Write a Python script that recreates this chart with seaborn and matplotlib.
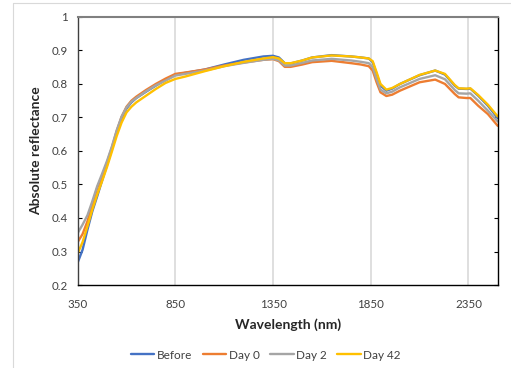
import numpy as np
import pandas as pd
import matplotlib.pyplot as plt
import seaborn as sns
from matplotlib.lines import Line2D

# wavelength sample points (nm)
wavelength = [350, 375, 400, 425, 450, 475, 500, 525, 550, 575, 600, 625, 650, 700, 750, 800, 850,
              900, 1000, 1100, 1200, 1300, 1350, 1380, 1410, 1440, 1500, 1550, 1650, 1750, 1800,
              1840, 1860, 1880, 1900, 1930, 1960, 2000, 2100, 2180, 2230, 2280, 2300, 2340, 2360,
              2400, 2450, 2500]

before = [0.267, 0.305, 0.365, 0.42, 0.465, 0.512, 0.558, 0.605, 0.655, 0.698, 0.727, 0.745, 0.758, 0.777, 0.795, 0.812, 0.828,
          0.833, 0.843, 0.858, 0.872, 0.882, 0.884, 0.879, 0.862, 0.861, 0.87, 0.879, 0.886, 0.882, 0.879,
          0.876, 0.865, 0.83, 0.795, 0.78, 0.786, 0.80, 0.826, 0.84, 0.828, 0.795, 0.786, 0.785, 0.786,
          0.765, 0.735, 0.698]
day0 = [0.328, 0.352, 0.39, 0.44, 0.49, 0.525, 0.565, 0.61, 0.66, 0.702, 0.732, 0.75, 0.762, 0.782, 0.80, 0.816, 0.83,
        0.834, 0.843, 0.855, 0.864, 0.872, 0.874, 0.868, 0.851, 0.851, 0.858, 0.865, 0.869, 0.862, 0.858,
        0.853, 0.84, 0.805, 0.775, 0.764, 0.768, 0.78, 0.805, 0.813, 0.80, 0.77, 0.76, 0.758, 0.758,
        0.735, 0.71, 0.675]
day2 = [0.355, 0.38, 0.408, 0.45, 0.495, 0.532, 0.57, 0.613, 0.662, 0.703, 0.73, 0.747, 0.758, 0.778, 0.796, 0.81, 0.825,
        0.83, 0.84, 0.853, 0.863, 0.872, 0.875, 0.87, 0.855, 0.855, 0.863, 0.87, 0.875, 0.87, 0.866,
        0.862, 0.85, 0.815, 0.783, 0.772, 0.777, 0.79, 0.815, 0.826, 0.814, 0.782, 0.772, 0.771, 0.772,
        0.75, 0.72, 0.688]
day42 = [0.294, 0.328, 0.375, 0.425, 0.47, 0.51, 0.552, 0.598, 0.645, 0.685, 0.715, 0.732, 0.745, 0.765, 0.785, 0.803, 0.815,
         0.822, 0.838, 0.853, 0.866, 0.876, 0.88, 0.876, 0.862, 0.862, 0.87, 0.879, 0.885, 0.882, 0.879,
         0.876, 0.868, 0.835, 0.80, 0.783, 0.788, 0.80, 0.827, 0.84, 0.83, 0.797, 0.787, 0.786, 0.787,
         0.767, 0.738, 0.703]

series = {"Before": before, "Day 0": day0, "Day 2": day2, "Day 42": day42}
colors = ["#4472C4", "#ED7D31", "#A5A5A5", "#FFC000"]

rows = []
for name, vals in series.items():
    for w, v in zip(wavelength, vals):
        rows.append({"Wavelength": w, "Reflectance": v, "Sample": name})
df = pd.DataFrame(rows)

sns.set_style("white")
plt.rcParams["font.family"] = ["Lato", "DejaVu Sans"]

fig = plt.figure(figsize=(5.11, 3.68), dpi=100)
ax = fig.add_axes([0.152, 0.2255, 0.822, 0.7285])

for x in [850, 1350, 1850, 2350]:
    ax.axvline(x, color="#D9D9D9", lw=1.2, zorder=0)

sns.lineplot(data=df, x="Wavelength", y="Reflectance", hue="Sample", palette=colors,
             lw=1.7, ax=ax, legend=False, sort=False)

ax.set_xlim(350, 2500)
ax.set_ylim(0.2, 1.0)
ax.set_xticks([350, 850, 1350, 1850, 2350])
ax.set_xticks(np.arange(350, 2500, 100), minor=True)
yt = np.round(np.arange(0.2, 1.01, 0.1), 1)
ax.set_yticks(yt)
ax.set_yticklabels(["1" if v == 1 else f"{v:.1f}" for v in yt])
ax.tick_params(axis="both", labelsize=8.3, colors="#404040", labelcolor="#404040")
ax.tick_params(axis="x", which="both", direction="in", length=3, width=0.8, color="black", pad=10)
ax.tick_params(axis="y", direction="in", length=3, width=0.8, left=True, right=True, color="black", pad=7)

ax.set_xlabel("Wavelength (nm)", fontsize=10, fontweight="bold", color="#262626", labelpad=6)
ax.set_ylabel("Absolute reflectance", fontsize=10, fontweight="bold", color="#262626", labelpad=7)

for side, c, w in [("left", "#404040", 1.0), ("bottom", "black", 1.0),
                   ("right", "black", 1.0), ("top", "#808080", 1.5)]:
    ax.spines[side].set_visible(True)
    ax.spines[side].set_color(c)
    ax.spines[side].set_linewidth(w)

handles = [Line2D([0], [0], color=c, lw=1.7) for c in colors]
fig.legend(handles, list(series.keys()), loc="center", bbox_to_anchor=(0.52, 0.035), ncol=4,
           frameon=False, fontsize=8.5, handlelength=2.0, handletextpad=0.2, columnspacing=0.9,
           labelcolor="#404040")

# outer chart border
fig.add_artist(Line2D([13 / 511, 13 / 511], [0, 1 - 3 / 368], color="#D9D9D9", lw=0.8))
fig.add_artist(Line2D([13 / 511, 1], [1 - 3 / 368, 1 - 3 / 368], color="#D9D9D9", lw=0.8))

fig.savefig("out.png", dpi=100)
